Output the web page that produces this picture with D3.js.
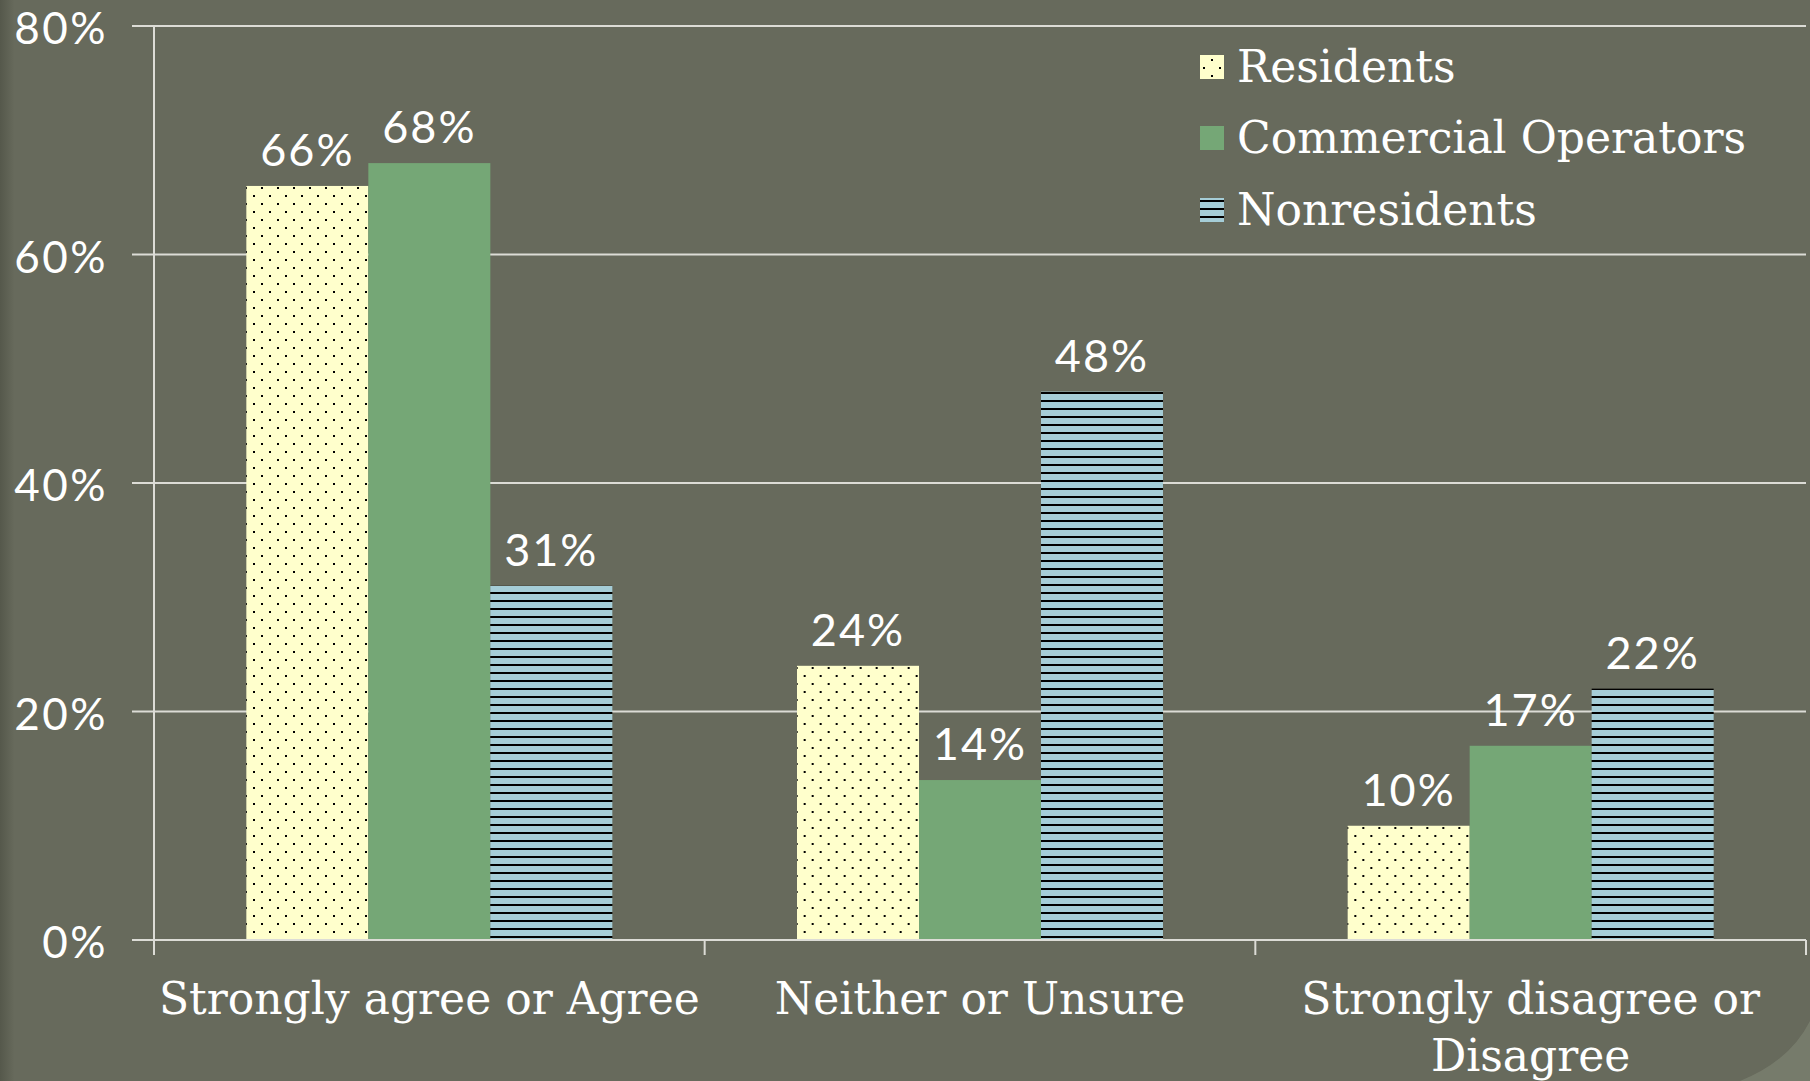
<!DOCTYPE html>
<html><head><meta charset="utf-8">
<script src="https://cdn.jsdelivr.net/npm/d3@7"></script>
<style>
html,body{margin:0;padding:0;background:#676a5c;overflow:hidden}
svg{display:block}
</style></head>
<body>
<script>
const categories = ["Strongly agree or Agree", "Neither or Unsure", "Strongly disagree or Disagree"];
const categoryLines = [["Strongly agree or Agree"], ["Neither or Unsure"], ["Strongly disagree or", "Disagree"]];
const seriesNames = ["Residents", "Commercial Operators", "Nonresidents"];
const residents = [66, 24, 10];
const commercial = [68, 14, 17];
const nonresidents = [31, 48, 22];
const yTicks = [0, 20, 40, 60, 80];
const yTickLabels = ["0%", "20%", "40%", "60%", "80%"];

(function(){
const W = 1810, H = 1081;
const svg = d3.select("body").append("svg").attr("width", W).attr("height", H);
const defs = svg.append("defs");

const lg = defs.append("linearGradient").attr("id","edge").attr("x1","0").attr("x2","1");
lg.append("stop").attr("offset","0").attr("stop-color","#55584b");
lg.append("stop").attr("offset","0.008").attr("stop-color","#676a5c");
lg.append("stop").attr("offset","1").attr("stop-color","#676a5c");
svg.append("rect").attr("width",W).attr("height",H).attr("fill","url(#edge)");
svg.append("path").attr("d",`M${W} ${H-60} Q${W-20} ${H-20} ${W-70} ${H} L${W} ${H} Z`).attr("fill","#7b7f6f").attr("opacity",0.8);

const pd = defs.append("pattern").attr("id","dots").attr("patternUnits","userSpaceOnUse").attr("width",16).attr("height",16);
pd.append("rect").attr("width",16).attr("height",16).attr("fill","#ffffcc");
pd.append("rect").attr("x",3).attr("y",3).attr("width",2).attr("height",2).attr("fill","#000");
pd.append("rect").attr("x",11).attr("y",11).attr("width",2).attr("height",2).attr("fill","#000");
const ph = defs.append("pattern").attr("id","hlines").attr("patternUnits","userSpaceOnUse").attr("width",8).attr("height",8);
ph.append("rect").attr("width",8).attr("height",8).attr("fill","#a5cdd7");
ph.append("rect").attr("y",0).attr("width",8).attr("height",2).attr("fill","#000");

const fills = ["url(#dots)", "#75a776", "url(#hlines)"];

const mLeft = 154, mRight = 1806, mTop = 26, mBottom = 940;
const y = d3.scaleLinear().domain([0, 80]).range([mBottom, mTop]);
const x0 = d3.scaleBand().domain(categories).range([mLeft, mRight]).padding(0);
const gap = x0.bandwidth() * 0.1677;
const x1 = d3.scaleBand().domain(seriesNames).range([gap, x0.bandwidth() - gap]).padding(0);

const sansFont = "Lato, 'Open Sans', sans-serif";
const serifFont = "'DejaVu Serif', serif";
const gridCol = "#dcdcd6";

svg.append("g").selectAll("line").data(yTicks).join("line")
  .attr("x1", mLeft - 22).attr("x2", mRight)
  .attr("y1", d => y(d)).attr("y2", d => y(d))
  .attr("stroke", gridCol).attr("stroke-width", 2);

svg.append("g").selectAll("text").data(yTicks).join("text")
  .attr("x", 108).attr("y", d => y(d) + 3).attr("dy", "0.35em")
  .attr("text-anchor", "end").attr("fill", "#fff")
  .attr("font-family", sansFont).attr("font-size", 44).attr("letter-spacing", 2.5)
  .text((d,i) => yTickLabels[i]);

const data = categories.map((c, i) => ({cat: c, vals: [residents[i], commercial[i], nonresidents[i]]}));
const gcat = svg.append("g").selectAll("g").data(data).join("g")
  .attr("transform", d => `translate(${x0(d.cat)},0)`);
gcat.selectAll("rect").data(d => d.vals.map((v, j) => ({s: seriesNames[j], v, j}))).join("rect")
  .attr("x", d => x1(d.s)).attr("width", x1.bandwidth())
  .attr("y", d => y(d.v)).attr("height", d => y(0) - y(d.v))
  .attr("fill", d => fills[d.j]);
gcat.selectAll("text").data(d => d.vals.map((v, j) => ({s: seriesNames[j], v, j}))).join("text")
  .attr("x", d => x1(d.s) + x1.bandwidth() / 2).attr("y", d => y(d.v) - 20)
  .attr("text-anchor", "middle").attr("fill", "#fff")
  .attr("font-family", sansFont).attr("font-size", 45).attr("letter-spacing", 2)
  .text(d => d.v + "%");

svg.append("line").attr("x1", mLeft).attr("x2", mRight).attr("y1", mBottom).attr("y2", mBottom)
  .attr("stroke", gridCol).attr("stroke-width", 2);
svg.append("line").attr("x1", mLeft).attr("x2", mLeft).attr("y1", mTop).attr("y2", mBottom + 15)
  .attr("stroke", gridCol).attr("stroke-width", 2);
const tickXs = categories.map(c => x0(c)).concat([mRight]);
svg.append("g").selectAll("line").data(tickXs).join("line")
  .attr("x1", d => d).attr("x2", d => d).attr("y1", mBottom).attr("y2", mBottom + 15)
  .attr("stroke", gridCol).attr("stroke-width", 2);

svg.append("g").selectAll("text").data(categories).join("text")
  .attr("x", d => x0(d) + x0.bandwidth() / 2).attr("y", 1014)
  .attr("text-anchor", "middle").attr("fill", "#fff")
  .attr("font-family", serifFont).attr("font-size", 44)
  .each(function(d, i) {
    const t = d3.select(this);
    categoryLines[i].forEach((ln, k) => {
      t.append("tspan").attr("x", x0(d) + x0.bandwidth() / 2).attr("dy", k === 0 ? 0 : 57).text(ln);
    });
  });

const lgG = svg.append("g").attr("transform", "translate(1200,0)");
const rowsY = [67, 138, 210];
seriesNames.forEach((s, i) => {
  lgG.append("rect").attr("x", 0).attr("y", rowsY[i] - 12).attr("width", 24).attr("height", 24).attr("fill", fills[i]);
  lgG.append("text").attr("x", 37).attr("y", rowsY[i]).attr("dy", "0.35em")
    .attr("fill", "#fff").attr("font-family", serifFont).attr("font-size", 44).text(s);
});
})();
</script>
</body></html>
